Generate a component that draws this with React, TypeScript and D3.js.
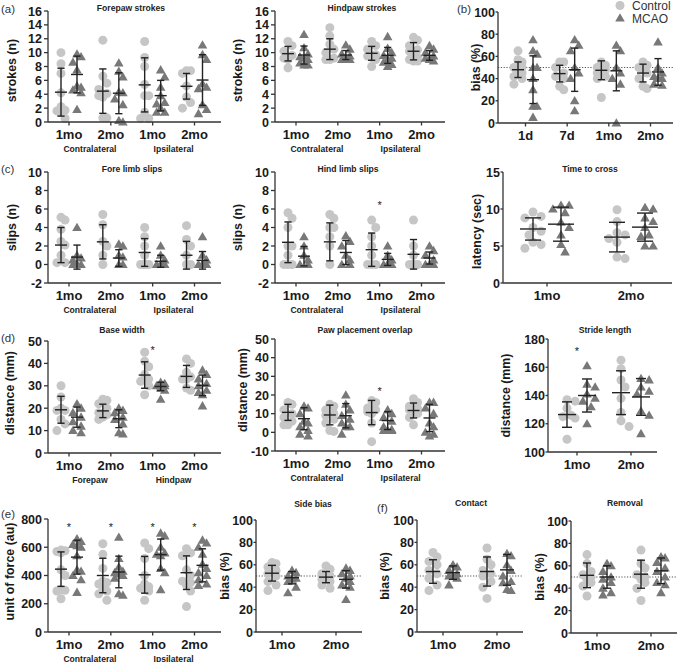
import React from "react";
import * as d3 from "d3";

const FONT = "'Liberation Sans', Arial, Helvetica, sans-serif";
const CTRL_COLOR = "#c6c6c6";
const MCAO_COLOR = "#787878";
const BAR_COLOR = "#222222";
const AXIS_COLOR = "#333333";

// ---------- categories / labels ----------
const monthGroups4 = ["1mo", "2mo", "1mo", "2mo"];
const dayGroups = ["1d", "7d", "1mo", "2mo"];
const monthGroups2 = ["1mo", "2mo"];
const sideLabels = ["Contralateral", "Ipsilateral"];
const pawLabels = ["Forepaw", "Hindpaw"];
const legendLabels = ["Control", "MCAO"];

// ---------- (a) Forepaw strokes ----------
const foreStrokesCtrl = [
  [10, 8.4, 7, 2.2, 1.7, 1.4, 0.5, 1.6, 4.2],
  [11.8, 6.6, 5.6, 4.7, 4.1, 3.8, 3.6, 0.6, 0.6],
  [11.6, 9.3, 8.0, 5.4, 3.8, 3.8, 1.4, 0.5, 0.5],
  [7.4, 7.4, 7.0, 5.2, 3.6, 2.8, 2.0],
];
const foreStrokesMcao = [
  [9.8, 9.4, 8.6, 7.5, 5.2, 5.0, 4.6, 4.2, 1.8],
  [8.5, 7.3, 6.5, 4.3, 4.2, 3.3, 2.5, 0.2, 0.0],
  [7.5, 6.5, 5.0, 3.8, 2.8, 2.6, 1.4, 1.4, 2.0],
  [11.1, 9.7, 9.0, 5.5, 5.0, 4.8, 2.5, 1.8, 1.2],
];
const foreStrokesCtrlMean = [4.3, 4.45, 5.35, 5.15];
const foreStrokesCtrlSd = [3.45, 3.2, 3.9, 1.85];
const foreStrokesMcaoMean = [6.85, 4.15, 3.8, 6.05];
const foreStrokesMcaoSd = [2.65, 2.95, 2.2, 3.65];

// ---------- Hindpaw strokes ----------
const hindStrokesCtrl = [
  [11.6, 11.0, 10.2, 9.6, 9.2, 9.0, 7.8],
  [13.6, 12.4, 11.2, 10.5, 10.0, 9.2, 9.0, 9.0],
  [11.6, 11.0, 10.5, 9.7, 9.5, 9.3, 9.0, 8.0],
  [12.2, 11.8, 11.0, 10.4, 10.2, 9.8, 9.3, 9.0, 8.8, 8.8],
];
const hindStrokesMcao = [
  [12.6, 10.7, 9.8, 9.4, 9.2, 9.0, 8.5, 8.2, 8.2],
  [11.1, 10.5, 9.8, 9.5, 9.2, 9.0, 9.0],
  [12.3, 10.6, 10.0, 9.6, 9.2, 9.0, 8.6, 8.3, 8.0],
  [11.0, 10.5, 10.0, 9.5, 9.2, 9.0, 8.8],
];
const hindStrokesCtrlMean = [9.85, 10.5, 9.9, 10.2];
const hindStrokesCtrlSd = [1.05, 1.5, 1.0, 1.25];
const hindStrokesMcaoMean = [9.65, 9.65, 9.6, 9.6];
const hindStrokesMcaoSd = [1.3, 0.65, 1.15, 0.7];

// ---------- (b) bias ----------
const biasCtrl = [
  [65, 57, 55, 50, 48, 45, 42, 40, 35, 50],
  [55, 55, 50, 45, 42, 40, 33, 30],
  [55, 52, 50, 48, 48, 45, 42, 40, 23],
  [55, 52, 50, 48, 45, 40, 33, 31],
];
const biasMcao = [
  [75, 65, 62, 50, 50, 40, 30, 15, 15, 5],
  [75, 70, 65, 50, 45, 40, 20, 11],
  [70, 65, 50, 40, 35, 45, 0],
  [73, 50, 45, 42, 40, 40, 35, 34],
];
const biasCtrlMean = [48, 44.5, 47.5, 45];
const biasCtrlSd = [7, 7.5, 8.5, 8];
const biasMcaoMean = [39, 48, 47, 46];
const biasMcaoSd = [21.5, 19.5, 18, 12];

// ---------- (c) Fore limb slips ----------
const foreSlipsCtrl = [
  [5.1, 4.8, 3.8, 2.5, 2.1, 1.0, 0.2, 0.2],
  [5.4, 4.3, 2.5, 2.0, 1.0, 0],
  [4.0, 3.0, 2.0, 1.0, 0, 0, 0, 0, 0],
  [4.2, 2.7, 2.0, 1.0, 0, 0],
];
const foreSlipsMcao = [
  [4.0, 1.0, 0.7, 0.5, 0, 0, 0, 0, 0],
  [2.2, 2.0, 1.0, 0.8, 0, 0],
  [2.0, 1.0, 0.5, 0, 0, 0, 0, 0],
  [3.0, 1.0, 0.5, 0, 0, 0, 0, 0, 0],
];
const foreSlipsCtrlMean = [2.1, 2.45, 1.3, 1.0];
const foreSlipsCtrlSd = [1.9, 1.85, 1.5, 1.5];
const foreSlipsMcaoMean = [0.8, 0.7, 0.35, 0.45];
const foreSlipsMcaoSd = [1.3, 0.9, 0.65, 0.95];

// ---------- Hind limb slips ----------
const hindSlipsCtrl = [
  [5.6, 5.0, 4.0, 2.0, 2.0, 1.0, 0, 0, 0],
  [5.4, 5.0, 4.0, 4.0, 3.0, 2.0, 0],
  [4.8, 4.0, 3.0, 2.0, 1.0, 0, 0, 0],
  [4.8, 2.0, 1.0, 0, 0, 0, 0],
];
const hindSlipsMcao = [
  [3.0, 2.0, 1.0, 0.5, 0, 0],
  [3.1, 2.5, 2.0, 1.0, 0.5, 0, 0],
  [2.0, 1.0, 0.5, 0, 0, 0, 0, 0, 0],
  [2.0, 1.5, 1.0, 0.5, 0, 0, 0],
];
const hindSlipsCtrlMean = [2.4, 2.45, 1.6, 1.1];
const hindSlipsCtrlSd = [2.2, 2.05, 1.8, 1.6];
const hindSlipsMcaoMean = [0.9, 1.3, 0.55, 0.7];
const hindSlipsMcaoSd = [1.05, 1.3, 0.65, 0.65];
const hindSlipsStars = [{ group: 2, value: 6.7 }];

// ---------- Time to cross ----------
const crossCtrl = [
  [9.6, 9.0, 8.8, 7.5, 7.0, 6.5, 5.5, 5.2, 4.7],
  [9.9, 8.3, 6.8, 6.5, 6.0, 5.5, 3.5, 3.3],
];
const crossMcao = [
  [10.5, 10.5, 9.5, 8.2, 7.5, 6.5, 5.2, 4.2, 10.0],
  [10.2, 10.0, 8.8, 8.3, 7.5, 6.5, 6.3, 5.0, 5.0],
];
const crossCtrlMean = [7.3, 6.2];
const crossCtrlSd = [1.5, 2.0];
const crossMcaoMean = [7.95, 7.55];
const crossMcaoSd = [2.3, 1.9];

// ---------- (d) Base width ----------
const baseCtrl = [
  [30, 25, 20, 19, 19, 15, 13, 10],
  [24, 23.5, 22, 20, 18, 17, 16, 15],
  [45, 41, 38.5, 35, 33, 32, 30, 26],
  [42, 40, 36, 34, 33, 33, 29, 28],
];
const baseMcao = [
  [22, 20, 18, 16, 14, 12, 10, 9],
  [20, 19, 18, 16, 15, 13, 8.5, 9],
  [31.5, 31, 30, 30, 30, 29, 28, 24],
  [37, 35, 33, 31, 30, 28, 27, 26, 21],
];
const baseCtrlMean = [19.3, 18.8, 34.8, 34.2];
const baseCtrlSd = [6, 3, 5.9, 4.9];
const baseMcaoMean = [16, 15.3, 29.7, 30.2];
const baseMcaoSd = [4.5, 4, 1.9, 4.6];
const baseStars = [{ group: 2, value: 47 }];

// ---------- Paw placement overlap ----------
const overlapCtrl = [
  [16, 15, 12, 10, 8, 6, 4, 4],
  [15, 14, 12, 10, 9, 7, 5, 1, 0.5],
  [17, 16, 13, 12, 12, 11, 10, 5, -5],
  [18, 16, 14, 13, 12, 12, 10, 8, 4],
];
const overlapMcao = [
  [14, 13, 10, 6, 5, 3, 1, -1, -2],
  [20, 15, 12, 9, 7, 5, 3, 3, -1],
  [12, 10, 8, 6, 3, 1.5, 1, 1, 1],
  [16, 16, 13, 10, 5, 3, 0, -1, -2],
];
const overlapCtrlMean = [10.7, 9.3, 10.6, 11.7];
const overlapCtrlSd = [4.3, 5.3, 6.5, 4];
const overlapMcaoMean = [7.3, 8.9, 6.3, 7.7];
const overlapMcaoSd = [5.9, 6.5, 4.8, 7.3];
const overlapStars = [{ group: 2, value: 23 }];

// ---------- Stride length ----------
const strideCtrl = [
  [137, 136, 131, 126, 125, 124, 109],
  [165, 159, 151, 146, 138, 128, 122, 118],
];
const strideMcao = [
  [161, 148, 146, 141, 138, 136, 132, 120],
  [152, 151, 146, 143, 141, 129, 126, 113],
];
const strideCtrlMean = [126.5, 142];
const strideCtrlSd = [9, 15.5];
const strideMcaoMean = [140, 139];
const strideMcaoSd = [11.7, 13];
const strideStars = [{ group: 0, value: 173 }];

// ---------- (e) Unit of force ----------
const forceCtrl = [
  [580, 575, 570, 560, 440, 400, 300, 295, 290, 235],
  [625, 550, 450, 360, 350, 340, 320, 290, 270, 225],
  [630, 590, 520, 400, 340, 320, 310, 300, 290, 225],
  [590, 560, 540, 440, 400, 360, 350, 330, 290, 180],
];
const forceMcao = [
  [660, 640, 620, 610, 600, 540, 440, 430, 400, 370, 280],
  [670, 520, 460, 430, 420, 410, 400, 380, 270, 260],
  [700, 680, 600, 560, 550, 540, 450, 420, 300],
  [650, 630, 600, 550, 480, 450, 420, 400, 370, 340, 330],
];
const forceCtrlMean = [445, 400, 405, 420];
const forceCtrlSd = [122, 122, 130, 119];
const forceMcaoMean = [530, 425, 548, 472];
const forceMcaoSd = [120, 112, 110, 117];
const forceStars = [
  { group: 0, value: 760 },
  { group: 1, value: 760 },
  { group: 2, value: 760 },
  { group: 3, value: 760 },
];

// ---------- Side bias ----------
const sideCtrl = [
  [62, 61, 58, 55, 52, 50, 45, 42, 37],
  [59, 56, 52, 50, 48, 47, 45, 42, 39],
];
const sideMcao = [
  [55, 53, 50, 48, 47, 45, 40, 35],
  [57, 55, 52, 50, 48, 45, 42, 40, 29],
];
const sideCtrlMean = [52.5, 49];
const sideCtrlSd = [7, 5];
const sideMcaoMean = [48.5, 47];
const sideMcaoSd = [5.5, 7.8];

// ---------- (f) Contact ----------
const contactCtrl = [
  [71, 67, 63, 60, 55, 52, 48, 42, 37],
  [75, 65, 60, 55, 52, 50, 45, 40, 30],
];
const contactMcao = [
  [60, 58, 55, 52, 50, 50, 48, 42],
  [70, 68, 60, 55, 50, 45, 44, 38, 37],
];
const contactCtrlMean = [54, 54];
const contactCtrlSd = [10.5, 13];
const contactMcaoMean = [53, 55.5];
const contactMcaoSd = [6, 13.75];

// ---------- Removal ----------
const removalCtrl = [
  [70, 62, 55, 52, 50, 48, 45, 42, 33],
  [74, 62, 58, 52, 50, 48, 45, 40, 29],
];
const removalMcao = [
  [62, 60, 55, 50, 48, 45, 40, 36, 34],
  [68, 67, 63, 58, 55, 50, 45, 43, 36],
];
const removalCtrlMean = [51.5, 52.5];
const removalCtrlSd = [11, 12.5];
const removalMcaoMean = [50, 55.5];
const removalMcaoSd = [10, 11.5];

// ---------- layout helpers ----------
type Star = { group: number; value: number };
type PanelSpec = {
  title: string;
  titleX: number;
  titleY: number;
  x0: number;
  x1: number;
  yTop: number;
  yBot: number;
  domain: [number, number];
  ticks: number[];
  cats: string[];
  catStart: number;
  catEnd: number;
  offset: number;
  meanHalf: number;
  capHalf: number;
  spread: number;
  ctrl: number[][];
  mcao: number[][];
  ctrlMean: number[];
  ctrlSd: number[];
  mcaoMean: number[];
  mcaoSd: number[];
  yLabel: string;
  yLabelX: number;
  yLabelDy?: number;
  tickLen?: number;
  labelGap?: number;
  subLabels?: string[];
  refLine?: number;
  stars?: Star[];
};

const R = 4.5;
const TRI = 9.6;

function swarmOffsets(ys: number[], r: number, maxSpread: number): number[] {
  const order = ys.map((_, i) => i).sort((a, b) => ys[a] - ys[b]);
  const placed: [number, number][] = [];
  const out = new Array(ys.length).fill(0);
  const step = r * 0.9;
  const cands: number[] = [0];
  for (let k = 1; k * step <= maxSpread + 0.01; k++) cands.push(k * step, -k * step);
  const thresh = r * 1.75;
  for (const i of order) {
    const py = ys[i];
    let best = 0;
    let bestD = -1;
    let found = false;
    for (const c of cands) {
      let md = Infinity;
      for (const [px, qy] of placed) md = Math.min(md, Math.hypot(px - c, qy - py));
      if (md >= thresh) {
        best = c;
        found = true;
        break;
      }
      if (md > bestD) {
        bestD = md;
        best = c;
      }
    }
    if (!found && bestD < 0) best = 0;
    out[i] = best;
    placed.push([best, py]);
  }
  return out;
}

function triPath(cx: number, cy: number, s: number) {
  const h = s * 0.87;
  return `M${cx},${cy - h * 0.58}L${cx + s / 2},${cy + h * 0.42}L${cx - s / 2},${cy + h * 0.42}Z`;
}

function ErrorBar({ x, y, mean, sd, meanHalf, capHalf }: any) {
  const yt = y(mean + sd);
  const yb = y(mean - sd);
  const ym = y(mean);
  return (
    <g stroke={BAR_COLOR} strokeWidth={1.4} fill="none">
      <line x1={x} x2={x} y1={yt} y2={yb} />
      <line x1={x - capHalf} x2={x + capHalf} y1={yt} y2={yt} />
      <line x1={x - capHalf} x2={x + capHalf} y1={yb} y2={yb} />
      <line x1={x - meanHalf} x2={x + meanHalf} y1={ym} y2={ym} />
    </g>
  );
}

function Panel({ p }: { p: PanelSpec }) {
  const y = d3.scaleLinear().domain(p.domain).range([p.yBot, p.yTop]);
  const x = d3
    .scalePoint<number>()
    .domain(d3.range(p.cats.length))
    .range([p.x0 + p.catStart, p.x0 + p.catEnd]);
  const labelY = p.yLabelDy ?? 0;
  const midY = (p.yTop + p.yBot) / 2 + labelY;
  const tickLen = p.tickLen ?? 4;
  const gap = p.labelGap ?? 6;
  return (
    <g>
      {/* title */}
      <text x={p.titleX} y={p.titleY} textAnchor="middle" fontSize={8.6} fontWeight="bold" fill="#222">
        {p.title}
      </text>
      {/* reference line */}
      {p.refLine !== undefined && (
        <line
          x1={p.x0}
          x2={p.x1}
          y1={y(p.refLine)}
          y2={y(p.refLine)}
          stroke="#555"
          strokeWidth={1.1}
          strokeDasharray="1.2,1.6"
        />
      )}
      {/* points */}
      {p.cats.map((_, gi) => {
        const cx = x(gi)! - p.offset;
        const mx = x(gi)! + p.offset;
        const cys = p.ctrl[gi].map((v) => y(v));
        const mys = p.mcao[gi].map((v) => y(v));
        const co = swarmOffsets(cys, R, p.spread);
        const mo = swarmOffsets(mys, R, p.spread);
        return (
          <g key={gi}>
            {cys.map((yy, i) => (
              <circle key={"c" + i} cx={cx + co[i]} cy={yy} r={R} fill={CTRL_COLOR} />
            ))}
            {mys.map((yy, i) => (
              <path key={"m" + i} d={triPath(mx + mo[i], yy, TRI)} fill={MCAO_COLOR} />
            ))}
            <ErrorBar x={cx} y={y} mean={p.ctrlMean[gi]} sd={p.ctrlSd[gi]} meanHalf={p.meanHalf} capHalf={p.capHalf} />
            <ErrorBar x={mx} y={y} mean={p.mcaoMean[gi]} sd={p.mcaoSd[gi]} meanHalf={p.meanHalf} capHalf={p.capHalf} />
          </g>
        );
      })}
      {/* stars */}
      {(p.stars || []).map((s, i) => (
        <text key={i} x={x(s.group)!} y={y(s.value) + 6} textAnchor="middle" fontSize={11} fill="#222">
          *
        </text>
      ))}
      {/* y axis */}
      <line x1={p.x0} x2={p.x0} y1={p.yTop} y2={p.yBot} stroke={AXIS_COLOR} strokeWidth={1.3} />
      {p.ticks.map((t) => (
        <g key={t}>
          <line x1={p.x0 - tickLen} x2={p.x0} y1={y(t)} y2={y(t)} stroke={AXIS_COLOR} strokeWidth={1.3} />
          <text
            x={p.x0 - gap}
            y={y(t)}
            dy="0.36em"
            textAnchor="end"
            fontSize={12.5}
            fontWeight="bold"
            fill="#1a1a1a"
          >
            {t}
          </text>
        </g>
      ))}
      {/* x axis */}
      <line x1={p.x0} x2={p.x1} y1={p.yBot} y2={p.yBot} stroke={AXIS_COLOR} strokeWidth={1.3} />
      {p.cats.map((c, gi) => (
        <g key={gi}>
          <line x1={x(gi)!} x2={x(gi)!} y1={p.yBot} y2={p.yBot + 3.5} stroke={AXIS_COLOR} strokeWidth={1.3} />
          <text x={x(gi)!} y={p.yBot + 17} textAnchor="middle" fontSize={13} fontWeight="bold" fill="#1a1a1a">
            {c}
          </text>
        </g>
      ))}
      {p.subLabels &&
        p.subLabels.map((s, i) => (
          <text
            key={s}
            x={(x(i * 2)! + x(i * 2 + 1)!) / 2}
            y={p.yBot + 29.5}
            textAnchor="middle"
            fontSize={8.6}
            fontWeight="bold"
            fill="#222"
          >
            {s}
          </text>
        ))}
      {/* y label */}
      <text
        transform={`translate(${p.yLabelX},${midY}) rotate(-90)`}
        textAnchor="middle"
        dy="0.36em"
        fontSize={12.4}
        fontWeight="bold"
        fill="#1a1a1a"
      >
        {p.yLabel}
      </text>
    </g>
  );
}

const range = (a: number, b: number, s: number) => d3.range(a, b + s / 2, s);

const four = { cats: monthGroups4, catStart: 21, catEnd: 146.5, offset: 8, meanHalf: 6, capHalf: 3.6, spread: 8 };
const two = {
  cats: monthGroups2, catStart: 26, catEnd: 80, offset: 10, meanHalf: 7, capHalf: 4, spread: 8,
  tickLen: 2.5, labelGap: 3,
};

const panels: PanelSpec[] = [
  {
    ...four,
    title: "Forepaw strokes", titleX: 131, titleY: 11,
    x0: 48, x1: 221, yTop: 11, yBot: 122, domain: [0, 16], ticks: range(0, 16, 2),
    ctrl: foreStrokesCtrl, mcao: foreStrokesMcao,
    ctrlMean: foreStrokesCtrlMean, ctrlSd: foreStrokesCtrlSd, mcaoMean: foreStrokesMcaoMean, mcaoSd: foreStrokesMcaoSd,
    yLabel: "strokes (n)", yLabelX: 12, yLabelDy: 4, subLabels: sideLabels,
  },
  {
    ...four,
    title: "Hindpaw strokes", titleX: 362, titleY: 11,
    x0: 275, x1: 445, yTop: 11, yBot: 122, domain: [0, 16], ticks: range(0, 16, 2),
    ctrl: hindStrokesCtrl, mcao: hindStrokesMcao,
    ctrlMean: hindStrokesCtrlMean, ctrlSd: hindStrokesCtrlSd, mcaoMean: hindStrokesMcaoMean, mcaoSd: hindStrokesMcaoSd,
    yLabel: "strokes (n)", yLabelX: 238, yLabelDy: 4, subLabels: sideLabels,
  },
  {
    ...four, cats: dayGroups, catStart: 27.5, catEnd: 152.5, offset: 7.5, tickLen: 2.5, labelGap: 3,
    title: "", titleX: 0, titleY: 0,
    x0: 498, x1: 673, yTop: 12, yBot: 123, domain: [0, 100], ticks: range(0, 100, 20),
    ctrl: biasCtrl, mcao: biasMcao,
    ctrlMean: biasCtrlMean, ctrlSd: biasCtrlSd, mcaoMean: biasMcaoMean, mcaoSd: biasMcaoSd,
    yLabel: "bias (%)", yLabelX: 476, refLine: 50,
  },
  {
    ...four,
    title: "Fore limb slips", titleX: 132, titleY: 172,
    x0: 48, x1: 221, yTop: 172, yBot: 283, domain: [-2, 10], ticks: range(-2, 10, 2),
    ctrl: foreSlipsCtrl, mcao: foreSlipsMcao,
    ctrlMean: foreSlipsCtrlMean, ctrlSd: foreSlipsCtrlSd, mcaoMean: foreSlipsMcaoMean, mcaoSd: foreSlipsMcaoSd,
    yLabel: "slips (n)", yLabelX: 12, subLabels: sideLabels,
  },
  {
    ...four,
    title: "Hind limb slips", titleX: 348, titleY: 172,
    x0: 275, x1: 445, yTop: 172, yBot: 283, domain: [-2, 10], ticks: range(-2, 10, 2),
    ctrl: hindSlipsCtrl, mcao: hindSlipsMcao,
    ctrlMean: hindSlipsCtrlMean, ctrlSd: hindSlipsCtrlSd, mcaoMean: hindSlipsMcaoMean, mcaoSd: hindSlipsMcaoSd,
    yLabel: "slips (n)", yLabelX: 238, subLabels: sideLabels, stars: hindSlipsStars,
  },
  {
    cats: monthGroups2, catStart: 44, catEnd: 128, offset: 14, meanHalf: 13, capHalf: 8, spread: 13,
    tickLen: 2.5, labelGap: 3,
    title: "Time to cross", titleX: 590, titleY: 172,
    x0: 503, x1: 672, yTop: 172, yBot: 283, domain: [0, 15], ticks: [0, 5, 10, 15],
    ctrl: crossCtrl, mcao: crossMcao,
    ctrlMean: crossCtrlMean, ctrlSd: crossCtrlSd, mcaoMean: crossMcaoMean, mcaoSd: crossMcaoSd,
    yLabel: "latency (sec)", yLabelX: 477, yLabelDy: 4,
  },
  {
    ...four,
    title: "Base width", titleX: 122, titleY: 333,
    x0: 48, x1: 221, yTop: 341, yBot: 453, domain: [0, 50], ticks: range(0, 50, 10),
    ctrl: baseCtrl, mcao: baseMcao,
    ctrlMean: baseCtrlMean, ctrlSd: baseCtrlSd, mcaoMean: baseMcaoMean, mcaoSd: baseMcaoSd,
    yLabel: "distance (mm)", yLabelX: 10, yLabelDy: -4, subLabels: pawLabels, stars: baseStars,
  },
  {
    ...four,
    title: "Paw placement overlap", titleX: 365, titleY: 333,
    x0: 275, x1: 445, yTop: 339, yBot: 451, domain: [-10, 50], ticks: range(-10, 50, 10),
    ctrl: overlapCtrl, mcao: overlapMcao,
    ctrlMean: overlapCtrlMean, ctrlSd: overlapCtrlSd, mcaoMean: overlapMcaoMean, mcaoSd: overlapMcaoSd,
    yLabel: "distance (mm)", yLabelX: 243, yLabelDy: -5, subLabels: sideLabels, stars: overlapStars,
  },
  {
    cats: monthGroups2, catStart: 29, catEnd: 83, offset: 10, meanHalf: 9, capHalf: 5, spread: 9,
    tickLen: 2.5, labelGap: 3,
    title: "Stride length", titleX: 605, titleY: 333,
    x0: 548, x1: 657, yTop: 339, yBot: 452, domain: [100, 180], ticks: range(100, 180, 20),
    ctrl: strideCtrl, mcao: strideMcao,
    ctrlMean: strideCtrlMean, ctrlSd: strideCtrlSd, mcaoMean: strideMcaoMean, mcaoSd: strideMcaoSd,
    yLabel: "distance (mm)", yLabelX: 506, stars: strideStars,
  },
  {
    ...four,
    title: "", titleX: 0, titleY: 0,
    x0: 48, x1: 221, yTop: 519, yBot: 632, domain: [0, 800], ticks: range(0, 800, 200),
    ctrl: forceCtrl, mcao: forceMcao,
    ctrlMean: forceCtrlMean, ctrlSd: forceCtrlSd, mcaoMean: forceMcaoMean, mcaoSd: forceMcaoSd,
    yLabel: "unit of force (au)", yLabelX: 10, yLabelDy: -4, subLabels: sideLabels, stars: forceStars,
  },
  {
    ...two,
    title: "Side bias", titleX: 313, titleY: 507,
    x0: 256, x1: 362, yTop: 520, yBot: 632, domain: [0, 100], ticks: range(0, 100, 20),
    ctrl: sideCtrl, mcao: sideMcao,
    ctrlMean: sideCtrlMean, ctrlSd: sideCtrlSd, mcaoMean: sideMcaoMean, mcaoSd: sideMcaoSd,
    yLabel: "bias (%)", yLabelX: 225, refLine: 50,
  },
  {
    ...two,
    title: "Contact", titleX: 471, titleY: 506,
    x0: 417, x1: 523, yTop: 520, yBot: 632, domain: [0, 100], ticks: range(0, 100, 20),
    ctrl: contactCtrl, mcao: contactMcao,
    ctrlMean: contactCtrlMean, ctrlSd: contactCtrlSd, mcaoMean: contactMcaoMean, mcaoSd: contactMcaoSd,
    yLabel: "bias (%)", yLabelX: 385, refLine: 50,
  },
  {
    ...two,
    title: "Removal", titleX: 625, titleY: 506,
    x0: 571, x1: 677, yTop: 521, yBot: 633, domain: [0, 100], ticks: range(0, 100, 20),
    ctrl: removalCtrl, mcao: removalMcao,
    ctrlMean: removalCtrlMean, ctrlSd: removalCtrlSd, mcaoMean: removalMcaoMean, mcaoSd: removalMcaoSd,
    yLabel: "bias (%)", yLabelX: 540, refLine: 50,
  },
];

const letters = [
  { t: "(a)", x: 1, y: 13 },
  { t: "(b)", x: 457, y: 13 },
  { t: "(c)", x: 1, y: 173 },
  { t: "(d)", x: 1, y: 342 },
  { t: "(e)", x: 1, y: 518 },
  { t: "(f)", x: 377, y: 512 },
];

export default function App() {
  return (
    <svg
      width={678}
      height={662}
      viewBox="0 0 678 662"
      style={{ position: "absolute", left: 0, top: 0, background: "#fff" }}
      fontFamily={FONT}
    >
      <rect x={0} y={0} width={678} height={662} fill="#fff" />
      {panels.map((p, i) => (
        <Panel key={i} p={p} />
      ))}
      {letters.map((l) => (
        <text key={l.t} x={l.x} y={l.y} fontSize={11.5} fill="#333">
          {l.t}
        </text>
      ))}
      {/* legend */}
      <circle cx={620} cy={5.5} r={R} fill={CTRL_COLOR} />
      <text x={632} y={10} fontSize={12} fill="#333">
        {legendLabels[0]}
      </text>
      <path d={triPath(620, 18, TRI)} fill={MCAO_COLOR} />
      <text x={632} y={22.5} fontSize={12} fill="#333">
        {legendLabels[1]}
      </text>
    </svg>
  );
}
